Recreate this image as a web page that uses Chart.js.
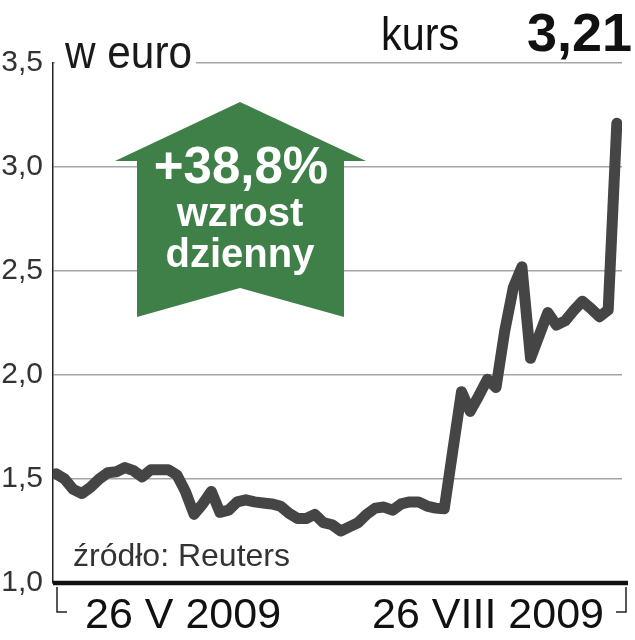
<!DOCTYPE html>
<html>
<head>
<meta charset="utf-8">
<script src="https://cdn.jsdelivr.net/npm/chart.js@4/dist/chart.umd.min.js"></script>
<style>
  html, body { margin: 0; padding: 0; background: #fff; }
  #wrap { width: 635px; height: 640px; position: relative; }
</style>
</head>
<body>
<div id="wrap"><canvas id="grafico" width="635" height="640"></canvas></div>
<script>
// kurs akcji w euro, notowania dzienne 26 V - 26 VIII 2009
const kurs = [
  1.525, 1.50, 1.45, 1.43, 1.46, 1.50, 1.53, 1.535, 1.555, 1.54,
  1.51, 1.545, 1.545, 1.545, 1.52, 1.44, 1.33, 1.38, 1.44, 1.34,
  1.35, 1.39, 1.40, 1.39, 1.385, 1.38, 1.37, 1.335, 1.31, 1.31,
  1.33, 1.29, 1.28, 1.25, 1.27, 1.29, 1.33, 1.36, 1.365, 1.35,
  1.38, 1.39, 1.39, 1.37, 1.36, 1.357, 1.64, 1.92, 1.825, 1.90,
  1.98, 1.94, 2.21, 2.42, 2.52, 2.08, 2.19, 2.30, 2.24, 2.26,
  2.31, 2.355, 2.32, 2.28, 2.313, 3.21
];
const etykietyX = ['26 V 2009', '26 VIII 2009'];
const yMin = 1.0;
const yMax = 3.5;
const yKrok = 0.5;
const wzrost = ['+38,8%', 'wzrost', 'dzienny'];
const jednostka = 'w euro';
const zrodlo = 'źródło: Reuters';

const FONT = "'Liberation Sans', Arial, sans-serif";
const ZIELONY = '#3f8048';

function fmt(v) {
  return v.toFixed(2).replace(/0$/, '').replace('.', ',');
}

const dodatki = {
  id: 'dodatki',
  beforeDatasetsDraw(chart) {
    const ctx = chart.ctx;
    ctx.save();
    // tlo pod "w euro" (przerywa linie siatki)
    ctx.fillStyle = '#fff';
    ctx.fillRect(55, 56, 141, 14);
    ctx.fillStyle = '#1a1a1a';
    ctx.font = '46px ' + FONT;
    ctx.textAlign = 'left';
    ctx.textBaseline = 'alphabetic';
    ctx.save();
    ctx.translate(65, 68);
    ctx.scale(0.92, 1);
    ctx.fillText(jednostka, 0, 0);
    ctx.restore();

    // strzalka
    ctx.fillStyle = ZIELONY;
    ctx.beginPath();
    ctx.moveTo(240, 102);
    ctx.lineTo(366, 161);
    ctx.lineTo(344, 161);
    ctx.lineTo(344, 317);
    ctx.lineTo(240, 288);
    ctx.lineTo(137, 317);
    ctx.lineTo(137, 161);
    ctx.lineTo(115, 161);
    ctx.closePath();
    ctx.fill();

    ctx.fillStyle = '#fff';
    ctx.textAlign = 'center';
    ctx.font = 'bold 51px ' + FONT;
    ctx.fillText(wzrost[0], 241, 183);
    ctx.font = 'bold 40px ' + FONT;
    ctx.fillText(wzrost[1], 240, 226);
    ctx.fillText(wzrost[2], 240, 267);

    // zrodlo
    ctx.fillStyle = '#333';
    ctx.textAlign = 'left';
    ctx.font = '32px ' + FONT;
    ctx.fillText(zrodlo, 73, 566);
    ctx.restore();
  },
  afterDraw(chart) {
    const ctx = chart.ctx;
    const area = chart.chartArea;
    ctx.save();
    // gruba os pozioma
    ctx.strokeStyle = '#111';
    ctx.lineWidth = 4.5;
    ctx.beginPath();
    ctx.moveTo(area.left, area.bottom);
    ctx.lineTo(628, area.bottom);
    ctx.stroke();

    // nawiasy zakresu
    ctx.lineWidth = 1.5;
    ctx.strokeStyle = '#222';
    ctx.beginPath();
    ctx.moveTo(57, area.bottom + 4);
    ctx.lineTo(57, 612);
    ctx.lineTo(67, 612);
    ctx.moveTo(626, area.bottom + 4);
    ctx.lineTo(626, 612);
    ctx.lineTo(616, 612);
    ctx.stroke();

    ctx.fillStyle = '#111';
    ctx.font = '43px ' + FONT;
    ctx.textBaseline = 'alphabetic';
    ctx.textAlign = 'left';
    ctx.fillText(etykietyX[0], 85, 628);
    ctx.textAlign = 'right';
    ctx.fillText(etykietyX[1], 604, 628);

    // naglowek
    ctx.textAlign = 'left';
    ctx.font = '46px ' + FONT;
    ctx.save();
    ctx.translate(381, 50);
    ctx.scale(0.9, 1);
    ctx.fillText('kurs', 0, 0);
    ctx.restore();
    ctx.textAlign = 'right';
    ctx.font = 'bold 54px ' + FONT;
    ctx.fillText(fmt(kurs[kurs.length - 1]), 632, 51);
    ctx.restore();
  }
};

new Chart(document.getElementById('grafico'), {
  type: 'line',
  data: {
    datasets: [{
      data: kurs.map((v, i) => ({ x: i, y: v })),
      borderColor: '#454545',
      borderWidth: 11,
      borderJoinStyle: 'round',
      borderCapStyle: 'round',
      pointRadius: 0,
      tension: 0,
      fill: false
    }]
  },
  options: {
    responsive: false,
    animation: false,
    layout: { padding: { left: 0, right: 13, top: 63, bottom: 57 } },
    plugins: { legend: { display: false }, tooltip: { enabled: false } },
    scales: {
      x: {
        type: 'linear',
        display: false,
        min: -0.35,
        max: kurs.length - 1 + 0.6
      },
      y: {
        min: yMin,
        max: yMax,
        afterFit(scale) { scale.width = 53; },
        ticks: {
          stepSize: yKrok,
          padding: 10,
          color: '#333',
          font: { family: FONT, size: 30 },
          callback: v => v.toFixed(1).replace('.', ',')
        },
        grid: { color: '#a5a5a5', lineWidth: 1.5, drawTicks: false },
        border: { display: true, color: '#222', width: 1.5 }
      }
    }
  },
  plugins: [dodatki]
});
</script>
</body>
</html>
